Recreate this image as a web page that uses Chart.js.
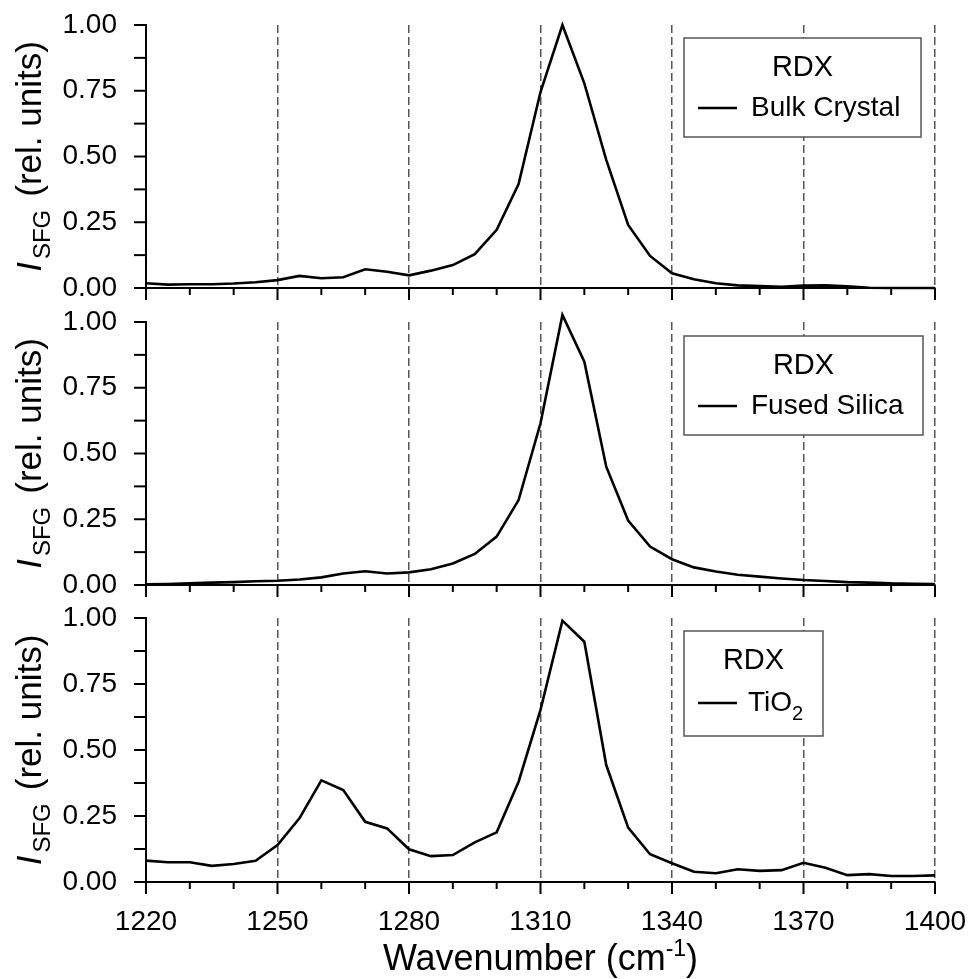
<!DOCTYPE html>
<html><head><meta charset="utf-8">
<script src="https://cdn.jsdelivr.net/npm/chart.js@4/dist/chart.umd.min.js"></script>
<style>
html,body{margin:0;padding:0;background:#fff;width:969px;height:979px;overflow:hidden;position:relative}
canvas{position:absolute;left:0}
</style></head><body>
<canvas id="c1" width="969" height="300" style="top:0px"></canvas>
<canvas id="c2" width="969" height="300" style="top:300px"></canvas>
<canvas id="c3" width="969" height="379" style="top:600px"></canvas>
<script>
// ---- data ----
const wavenumbers = [1220,1225,1230,1235,1240,1245,1250,1255,1260,1265,1270,1275,1280,1285,1290,1295,1300,1305,1310,1315,1320,1325,1330,1335,1340,1345,1350,1355,1360,1365,1370,1375,1380,1385,1390,1395,1400];
const bulkCrystal = [0.018,0.013,0.014,0.014,0.017,0.022,0.030,0.046,0.037,0.041,0.071,0.062,0.048,0.066,0.087,0.129,0.221,0.395,0.745,1.000,0.778,0.487,0.240,0.122,0.056,0.033,0.018,0.010,0.007,0.005,0.009,0.010,0.006,0.001,0.000,0.000,0.000];
const fusedSilica = [0.003,0.004,0.006,0.009,0.011,0.014,0.016,0.021,0.029,0.044,0.052,0.044,0.048,0.060,0.082,0.118,0.184,0.323,0.615,1.027,0.849,0.450,0.245,0.146,0.098,0.067,0.051,0.039,0.032,0.025,0.019,0.015,0.011,0.009,0.006,0.005,0.004];
const tio2 = [0.081,0.075,0.075,0.061,0.068,0.080,0.140,0.241,0.385,0.348,0.228,0.203,0.124,0.098,0.102,0.150,0.188,0.380,0.652,0.990,0.910,0.443,0.206,0.105,0.071,0.039,0.033,0.048,0.042,0.045,0.073,0.054,0.026,0.030,0.023,0.023,0.025];
const xMajorTicks = [1220,1250,1280,1310,1340,1370,1400];
const yMajorTicks = [0,0.25,0.5,0.75,1.0];
const legendTitle = 'RDX';
const seriesLabels = ['Bulk Crystal','Fused Silica','TiO2'];
const xTitle = 'Wavenumber (cm';
const xTitleSup = '-1';
const yTitleMain = 'I';
const yTitleSub = 'SFG';
const yTitleRest = '(rel. units)';

const FONT = "'Liberation Sans', Arial, Helvetica, sans-serif";

function isMajorX(v){ return xMajorTicks.some(m => Math.abs(m - v) < 1e-6); }
function isMajorY(v){ return yMajorTicks.some(m => Math.abs(m - v) < 1e-6); }

const decor = {
  id: 'decor',
  afterDraw(chart, args, o) {
    const ctx = chart.ctx, xs = chart.scales.x, ys = chart.scales.y, ca = chart.chartArea;
    ctx.save();
    // tick marks
    ctx.strokeStyle = '#000'; ctx.lineWidth = 2;
    xs.ticks.forEach(t => {
      const px = xs.getPixelForValue(t.value);
      ctx.beginPath(); ctx.moveTo(px, ca.bottom); ctx.lineTo(px, ca.bottom + (isMajorX(t.value) ? 12 : 7)); ctx.stroke();
    });
    ys.ticks.forEach(t => {
      const py = ys.getPixelForValue(t.value);
      ctx.beginPath(); ctx.moveTo(ca.left, py); ctx.lineTo(ca.left - 12, py); ctx.stroke();
    });
    // legend box
    const bx = ca.left + o.boxDx, by = ca.top + o.boxDy;
    ctx.fillStyle = '#fff'; ctx.fillRect(bx, by, o.boxW, o.boxH);
    ctx.strokeStyle = '#555'; ctx.lineWidth = 1.5; ctx.strokeRect(bx, by, o.boxW, o.boxH);
    ctx.fillStyle = '#000'; ctx.textBaseline = 'middle';
    ctx.font = `29px ${FONT}`; ctx.textAlign = 'center';
    ctx.fillText(legendTitle, bx + o.boxW / 2, by + 30);
    ctx.strokeStyle = '#000'; ctx.lineWidth = 2.5;
    const ly = by + o.lineDy;
    ctx.beginPath(); ctx.moveTo(bx + 14, ly); ctx.lineTo(bx + 53, ly); ctx.stroke();
    ctx.textAlign = 'left'; ctx.font = `28px ${FONT}`;
    const lbl = chart.data.datasets[0].label;
    if (lbl === 'TiO2') {
      ctx.fillText('TiO', bx + 64, ly);
      const w = ctx.measureText('TiO').width;
      ctx.font = `20px ${FONT}`;
      ctx.fillText('2', bx + 64 + w, ly + 11);
    } else {
      ctx.fillText(lbl, bx + 67, ly);
    }
    // y title
    ctx.save();
    const cy = (ca.top + ca.bottom) / 2;
    ctx.translate(41, cy); ctx.rotate(-Math.PI / 2);
    ctx.textBaseline = 'alphabetic'; ctx.textAlign = 'left';
    const fI = `italic 35px ${FONT}`, fS = `24px ${FONT}`, fR = `35px ${FONT}`;
    ctx.font = fI; const wI = ctx.measureText(yTitleMain).width + 3;
    ctx.font = fS; const wS = ctx.measureText(yTitleSub).width;
    ctx.font = fR; const wR = ctx.measureText(yTitleRest).width;
    const gap = 13;
    let x = -(wI + wS + gap + wR) / 2;
    ctx.font = fI; ctx.fillText(yTitleMain, x, 0); x += wI;
    ctx.font = fS; ctx.fillText(yTitleSub, x, 9); x += wS + gap;
    ctx.font = fR; ctx.fillText(yTitleRest, x, 0);
    ctx.restore();
    // x title (bottom panel only)
    if (o.xTitle) {
      ctx.textBaseline = 'alphabetic'; ctx.textAlign = 'left';
      const fM = `36px ${FONT}`, fSup = `23px ${FONT}`;
      ctx.font = fM; const w1 = ctx.measureText(xTitle).width; const w3 = ctx.measureText(')').width;
      ctx.font = fSup; const w2 = ctx.measureText(xTitleSup).width;
      let xx = (ca.left + ca.right) / 2 - (w1 + w2 + w3) / 2;
      const base = 370;
      ctx.font = fM; ctx.fillText(xTitle, xx, base); xx += w1;
      ctx.font = fSup; ctx.fillText(xTitleSup, xx, base - 14); xx += w2;
      ctx.font = fM; ctx.fillText(')', xx, base);
    }
    ctx.restore();
  }
};

function zeroPad(s){ s.paddingTop = 0; s.paddingBottom = 0; s.paddingLeft = 0; s.paddingRight = 0; }

function makeChart(id, label, values, cfg) {
  const pts = wavenumbers.map((w, i) => ({ x: w, y: values[i] }));
  return new Chart(document.getElementById(id), {
    type: 'line',
    data: { datasets: [{ label, data: pts, borderColor: '#000', borderWidth: 2.6, pointRadius: 0, tension: 0, fill: false, clip: false }] },
    options: {
      responsive: false, animation: false, devicePixelRatio: 1, events: [],
      layout: { padding: { top: cfg.padTop, right: 34, left: 0, bottom: 0 } },
      plugins: { legend: { display: false }, tooltip: { enabled: false },
        decor: cfg.decor },
      scales: {
        x: {
          type: 'linear', min: 1220, max: 1400,
          afterFit: s => { s.height = cfg.xHeight; zeroPad(s); },
          ticks: { display: cfg.showXLabels, stepSize: 10, autoSkip: false, maxRotation: 0, padding: 23,
            color: '#000', font: { family: FONT, size: 28 },
            callback: v => isMajorX(v) ? String(v) : '' },
          grid: { drawTicks: false, lineWidth: 1.5,
            color: c => (c.tick && isMajorX(c.tick.value) && c.tick.value !== 1220) ? '#555' : 'rgba(0,0,0,0)' },
          border: { display: true, color: '#000', width: 2, dash: [8, 4] }
        },
        y: {
          min: 0, max: 1,
          afterFit: s => { s.width = 146; zeroPad(s); },
          ticks: { stepSize: 0.125, autoSkip: false, padding: 29, color: '#000', font: { family: FONT, size: 28 },
            callback: v => isMajorY(v) ? v.toFixed(2) : '' },
          grid: { drawTicks: false, drawOnChartArea: false },
          border: { display: true, color: '#000', width: 2 }
        }
      }
    },
    plugins: [decor]
  });
}

makeChart('c1', seriesLabels[0], bulkCrystal, { padTop: 25, xHeight: 12, showXLabels: false,
  decor: { boxDx: 538, boxDy: 13, boxW: 237, boxH: 99, lineDy: 70 } });
makeChart('c2', seriesLabels[1], fusedSilica, { padTop: 22, xHeight: 15, showXLabels: false,
  decor: { boxDx: 538, boxDy: 14, boxW: 239, boxH: 99, lineDy: 70 } });
makeChart('c3', seriesLabels[2], tio2, { padTop: 18, xHeight: 97, showXLabels: true,
  decor: { boxDx: 538, boxDy: 13, boxW: 139, boxH: 105, lineDy: 72, xTitle: true } });
</script>
</body></html>
